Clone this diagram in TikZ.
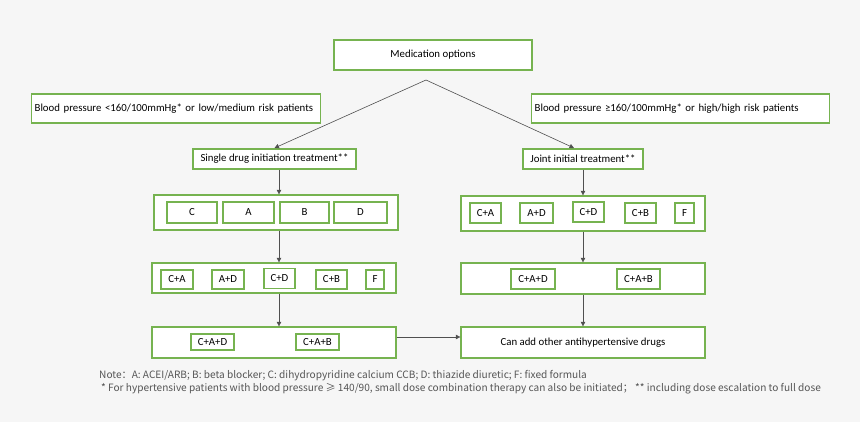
\documentclass[tikz,border=0pt]{standalone}
\usepackage{fontspec}
\setmainfont{Carlito}
\newfontfamily\notefont{Noto Sans CJK SC}
\usetikzlibrary{arrows.meta,calc}
\definecolor{bg}{HTML}{F6F6F6}
\definecolor{grn}{HTML}{76B350}
\definecolor{ln}{HTML}{505050}
\definecolor{notec}{HTML}{555555}
\tikzset{
  gbox/.style={draw=grn, line width=1.3pt, fill=white, inner sep=0pt, font=\fontsize{10.8}{12}\selectfont},
  arr/.style={draw=ln, line width=0.6pt, -{Triangle[length=4.5pt,width=4.5pt]}},
  notetxt/.style={anchor=west, inner sep=0pt, text=notec, font=\notefont\fontsize{10.1}{11}\selectfont},
}
\begin{document}
\begin{tikzpicture}[x=1pt,y=-1pt]
\fill[bg] (0,0) rectangle (860,422);
\useasboundingbox (0,0) rectangle (860,422);
% top
\node[gbox, minimum width=198pt, minimum height=30pt] (med) at (433,55) {Medication options};
\node[gbox, minimum width=289pt, minimum height=29pt, anchor=west, text width=283pt, align=left] (lbp) at (31,108.5) {Blood pressure <160/100mmHg* or low/medium risk patients};
\node[gbox, minimum width=298pt, minimum height=29pt, anchor=west, text width=292pt, align=left] (rbp) at (531,108.5) {Blood pressure ≥160/100mmHg* or high/high risk patients};
\node[gbox, minimum width=163pt, minimum height=20pt] (single) at (274.5,159) {Single drug initiation treatment**};
\node[gbox, minimum width=120pt, minimum height=20pt] (joint) at (583,159) {Joint initial treatment**};
\coordinate (apex) at (426,80);
\coordinate (stgt) at (274.5,148);
\coordinate (jtgt) at (574,148);
\draw[arr] (apex) -- (stgt);
\draw[arr] (apex) -- (jtgt);
% left column
\node[gbox, minimum width=244pt, minimum height=35pt] (r3l) at (276,212.5) {};
\node[gbox, minimum width=50pt, minimum height=21pt] (lc) at (192,212.5) {C};
\node[gbox, minimum width=51pt, minimum height=21pt] (la) at (248.5,212.5) {A};
\node[gbox, minimum width=49pt, minimum height=21pt] (lb) at (304.5,212.5) {B};
\node[gbox, minimum width=53pt, minimum height=21pt] (ld) at (360.5,212.5) {D};
\node[gbox, minimum width=244pt, minimum height=30pt] (r4l) at (274,278) {};
\node[gbox, minimum width=32pt, minimum height=19pt] (lca) at (177,279.5) {C+A};
\node[gbox, minimum width=32pt, minimum height=19pt] (lad) at (228,279.5) {A+D};
\node[gbox, minimum width=31pt, minimum height=20pt] (lcd) at (279.5,278.5) {C+D};
\node[gbox, minimum width=31pt, minimum height=19pt] (lcb) at (331.5,279.5) {C+B};
\node[gbox, minimum width=18pt, minimum height=19pt] (lf) at (375,279.5) {F};
\node[gbox, minimum width=244pt, minimum height=31pt] (r5l) at (274,342.5) {};
\node[gbox, minimum width=43pt, minimum height=16pt] (lcad) at (212.5,342) {C+A+D};
\node[gbox, minimum width=43pt, minimum height=16pt] (lcab) at (317.5,342) {C+A+B};
% right column
\node[gbox, minimum width=244pt, minimum height=35pt] (r3r) at (583,213.5) {};
\node[gbox, minimum width=31pt, minimum height=20pt] (rca) at (485.5,213) {C+A};
\node[gbox, minimum width=33pt, minimum height=20pt] (rad) at (536.5,213) {A+D};
\node[gbox, minimum width=31pt, minimum height=20pt] (rcd) at (588.5,212) {C+D};
\node[gbox, minimum width=31pt, minimum height=20pt] (rcb) at (640.5,213) {C+B};
\node[gbox, minimum width=19pt, minimum height=20pt] (rf) at (684.5,213) {F};
\node[gbox, minimum width=244pt, minimum height=31pt] (r4r) at (583,278.5) {};
\node[gbox, minimum width=44pt, minimum height=20pt] (rcad) at (533,279) {C+A+D};
\node[gbox, minimum width=43pt, minimum height=20pt] (rcab) at (638.5,279) {C+A+B};
\node[gbox, minimum width=244pt, minimum height=31pt] (add) at (583,342.5) {Can add other antihypertensive drugs};
% vertical connectors
\coordinate (lx) at (279,0);
\draw[arr] (single.south -| lx) -- (r3l.north -| lx);
\draw[arr] (r3l.south -| lx) -- (r4l.north -| lx);
\draw[arr] (r4l.south -| lx) -- (r5l.north -| lx);
\draw[arr] (joint.south) -- (r3r.north);
\draw[arr] (r3r.south) -- (r4r.north);
\draw[arr] (r4r.south) -- (add.north);
\coordinate (hy) at (0,337);
\draw[arr] (r5l.east |- hy) -- (add.west |- hy);
% notes
\node[notetxt] (n1) at (99,376) {Note：A: ACEI/ARB; B: beta blocker; C: dihydropyridine calcium CCB; D: thiazide diuretic; F: fixed formula};
\node[notetxt] (n2) at (101,389) {* For hypertensive patients with blood pressure ≥ 140/90, small dose combination therapy can also be initiated； ** including dose escalation to full dose};
\end{tikzpicture}
\end{document}
